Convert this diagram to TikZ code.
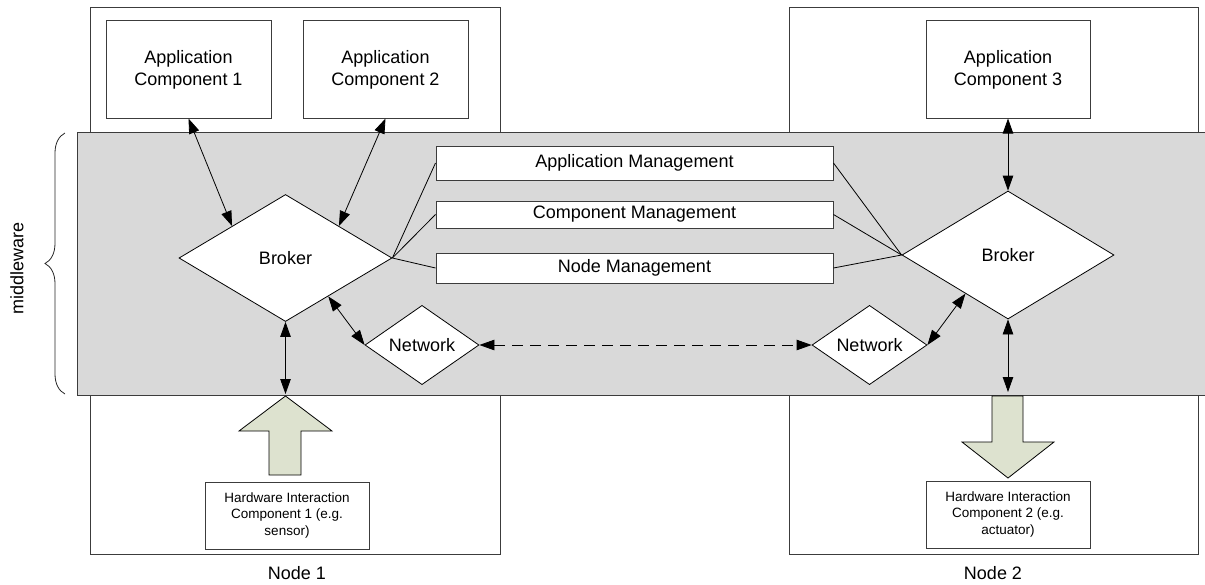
\documentclass[tikz,border=0pt]{standalone}
\usepackage{fontspec}
\setmainfont{Liberation Sans}
\usetikzlibrary{shapes.geometric,arrows.meta,decorations.pathreplacing,calc}
\definecolor{bandgray}{RGB}{217,217,217}
\definecolor{blockfill}{RGB}{221,226,207}
\definecolor{edgegray}{RGB}{60,60,60}
\begin{document}
\begin{tikzpicture}[x=1pt,y=-1pt,
  txt/.style={font=\fontsize{18}{21.7}\selectfont},
  smalltxt/.style={font=\fontsize{13.5}{16.8}\selectfont},
  frame/.style={draw=edgegray,line width=1pt,inner sep=0pt,rectangle},
  box/.style={draw=edgegray,line width=1pt,fill=white,inner sep=0pt,align=center,rectangle,txt},
  dia/.style={draw=black,line width=0.8pt,fill=white,diamond,inner sep=0pt,txt},
  conn/.style={draw=black,line width=0.8pt},
  tip/.style={Triangle[length=15pt,width=10.5pt]},
  biarrow/.style={line width=0.8pt,{Triangle[length=15pt,width=10.5pt]}-{Triangle[length=15pt,width=10.5pt]}},
  block/.style={draw=black,line width=0.8pt,fill=blockfill}]
\useasboundingbox (0,0) rectangle (1205,584);

% the two hosts
\node[frame,minimum width=410pt,minimum height=547pt] (n1) at (295,280.5) {};
\node[frame,minimum width=409pt,minimum height=547pt] (n2) at (993.5,280.5) {};
\node[txt] (n1lab) at (297,573) {Node 1};
\node[txt] (n2lab) at (993,573) {Node 2};

% middleware layer
\node[draw=edgegray,line width=1pt,fill=bandgray,rectangle,inner sep=0pt,
      minimum width=1130pt,minimum height=263pt] (mw) at (642,263.5) {};
\coordinate (brtop) at (65,133);
\coordinate (brbot) at (65,394);
\draw[black!85,line width=0.8pt,decorate,decoration={brace,amplitude=20pt}] (brbot) -- (brtop);
\node[txt,rotate=90] (mwlab) at (17,268) {middleware};

% application components
\node[box,minimum width=165pt,minimum height=98pt] (ac1) at (188.5,69) {\strut Application\\Component 1};
\node[box,minimum width=165pt,minimum height=98pt] (ac2) at (385.5,69) {\strut Application\\Component 2};
\node[box,minimum width=164pt,minimum height=98pt] (ac3) at (1008,69) {\strut Application\\Component 3};

% management services
\node[box,minimum width=397pt,minimum height=34pt] (am) at (634.5,163) {Application Management};
\node[box,minimum width=397pt,minimum height=27pt] (cm) at (634.5,214.5) {Component Management};
\node[box,minimum width=397pt,minimum height=30pt] (nm) at (634.5,268) {Node Management};

% brokers and network
\node[dia,minimum width=213pt,minimum height=127pt] (b1) at (285.5,258) {Broker};
\node[dia,minimum width=212pt,minimum height=128pt] (b2) at (1008,255) {Broker};
\node[dia,minimum width=114pt,minimum height=68pt] (net1) at (422,345) {Network};
\node[dia,minimum width=115pt,minimum height=68pt] (net2) at (869.5,345) {Network};

% hardware interaction components
\node[box,smalltxt,minimum width=164pt,minimum height=67pt] (hw1) at (287,515.5) {\strut Hardware Interaction\\Component 1 (e.g.\\sensor)\strut};
\node[box,smalltxt,minimum width=164pt,minimum height=67pt] (hw2) at (1008,514.5) {\strut Hardware Interaction\\Component 2 (e.g.\\actuator)\strut};

% broker to management links
\draw[conn] (b1.east) -- (am.west);
\draw[conn] (b1.east) -- (cm.west);
\draw[conn] (b1.east) -- (nm.west);
\draw[conn] (am.east) -- (b2.west);
\draw[conn] (cm.east) -- (b2.west);
\draw[conn] (nm.east) -- (b2.west);

% bidirectional links
\draw[biarrow] (ac1.south) -- (b1.north west);
\draw[biarrow] (ac2.south) -- (b1.north east);
\draw[biarrow] (ac3.south) -- (b2.north);
\draw[biarrow] ($(b1.east)!0.6!(b1.south)$) -- (net1.west);
\draw[biarrow] (net2.east) -- ($(b2.west)!0.6!(b2.south)$);
\draw[line width=0.8pt,dash pattern=on 11pt off 7pt,{Triangle[length=15pt,width=10.5pt]}-{Triangle[length=15pt,width=10.5pt]}] (net1.east) -- (net2.west);

% sensor input block arrow
\coordinate (tip1) at (285.5,396);
\draw[biarrow] (b1.south) -- ($(tip1)+(0,-2)$);
\draw[block] (tip1) -- (332,431) -- (301,431) -- (301,475) -- (269,475) -- (269,431) -- (239,431) -- cycle;

% actuator output block arrow
\coordinate (top2) at (1008,396);
\draw[biarrow] (b2.south) -- ($(top2)+(0,-4)$);
\draw[block] (992,396) -- (1023,396) -- (1023,442) -- (1054,442) -- (1008,478) -- (962,442) -- (992,442) -- cycle;
\end{tikzpicture}
\end{document}
